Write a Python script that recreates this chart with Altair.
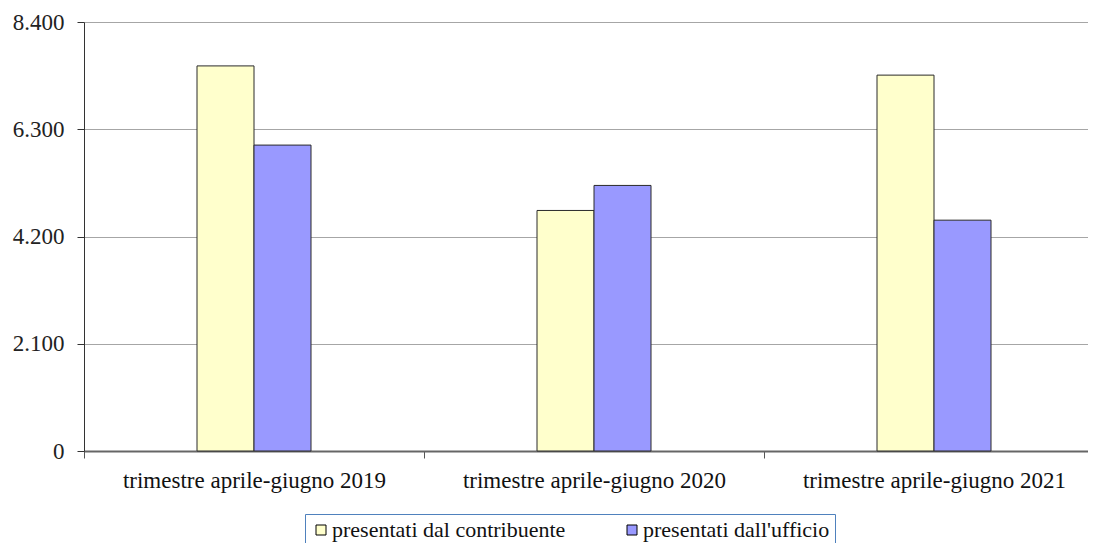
import altair as alt
import pandas as pd

categories = [
    "trimestre aprile-giugno 2019",
    "trimestre aprile-giugno 2020",
    "trimestre aprile-giugno 2021",
]
series_names = ["presentati dal contribuente", "presentati dall'ufficio"]
contribuente = [7540, 4710, 7360]
ufficio = [5990, 5200, 4520]
y_ticks = [0, 2100, 4200, 6300, 8400]
colors = ["#FFFFCC", "#9999FF"]

rows = []
for c, a, b in zip(categories, contribuente, ufficio):
    rows.append({"categoria": c, "serie": series_names[0], "valore": a})
    rows.append({"categoria": c, "serie": series_names[1], "valore": b})
df = pd.DataFrame(rows)

FONT = "Liberation Serif"

chart = alt.Chart(df).mark_bar(stroke="#2a2a2a", strokeWidth=1).encode(
    x=alt.X(
        "categoria:N",
        sort=categories,
        scale=alt.Scale(range=[0, 1020], paddingInner=0, paddingOuter=0),
        axis=alt.Axis(
            title=None, labelAngle=0, tickBand="extent", tickSize=7,
            tickColor="#555555", domainColor="#666666", domainWidth=2,
            labelFont=FONT, labelFontSize=23, labelColor="#111111",
            labelPadding=11, grid=False, labelLimit=500,
        ),
    ),
    xOffset=alt.XOffset(
        "serie:N", sort=series_names,
        scale=alt.Scale(range=[113, 227], paddingInner=0, paddingOuter=0),
    ),
    y=alt.Y(
        "valore:Q",
        scale=alt.Scale(domain=[0, 8400], nice=False),
        axis=alt.Axis(
            title=None, values=y_ticks,
            labelExpr="replace(format(datum.value, ','), ',', '.')",
            tickSize=7, tickColor="#333333", domainColor="#333333",
            gridColor="#a6a6a6", labelFont=FONT, labelFontSize=23,
            labelColor="#222222", labelPadding=13,
        ),
    ),
    color=alt.Color(
        "serie:N", sort=series_names,
        scale=alt.Scale(domain=series_names, range=colors),
        legend=alt.Legend(
            title=None, orient="none", legendX=221, legendY=492,
            direction="horizontal", strokeColor="#4f81bd", padding=5,
            symbolType="square", symbolSize=100, symbolStrokeColor="#000000",
            symbolStrokeWidth=1, labelFont=FONT, labelFontSize=22,
            labelColor="#111111", labelOffset=0, columnPadding=55,
            labelLimit=500,
        ),
    ),
).properties(
    width=1004, height=429,
    padding={"left": 76, "top": 14, "right": 0, "bottom": 92},
    autosize=alt.AutoSizeParams(type="none"),
).configure_view(stroke=None)

chart.save("out.html", embed_options={"renderer": "svg", "actions": False})
